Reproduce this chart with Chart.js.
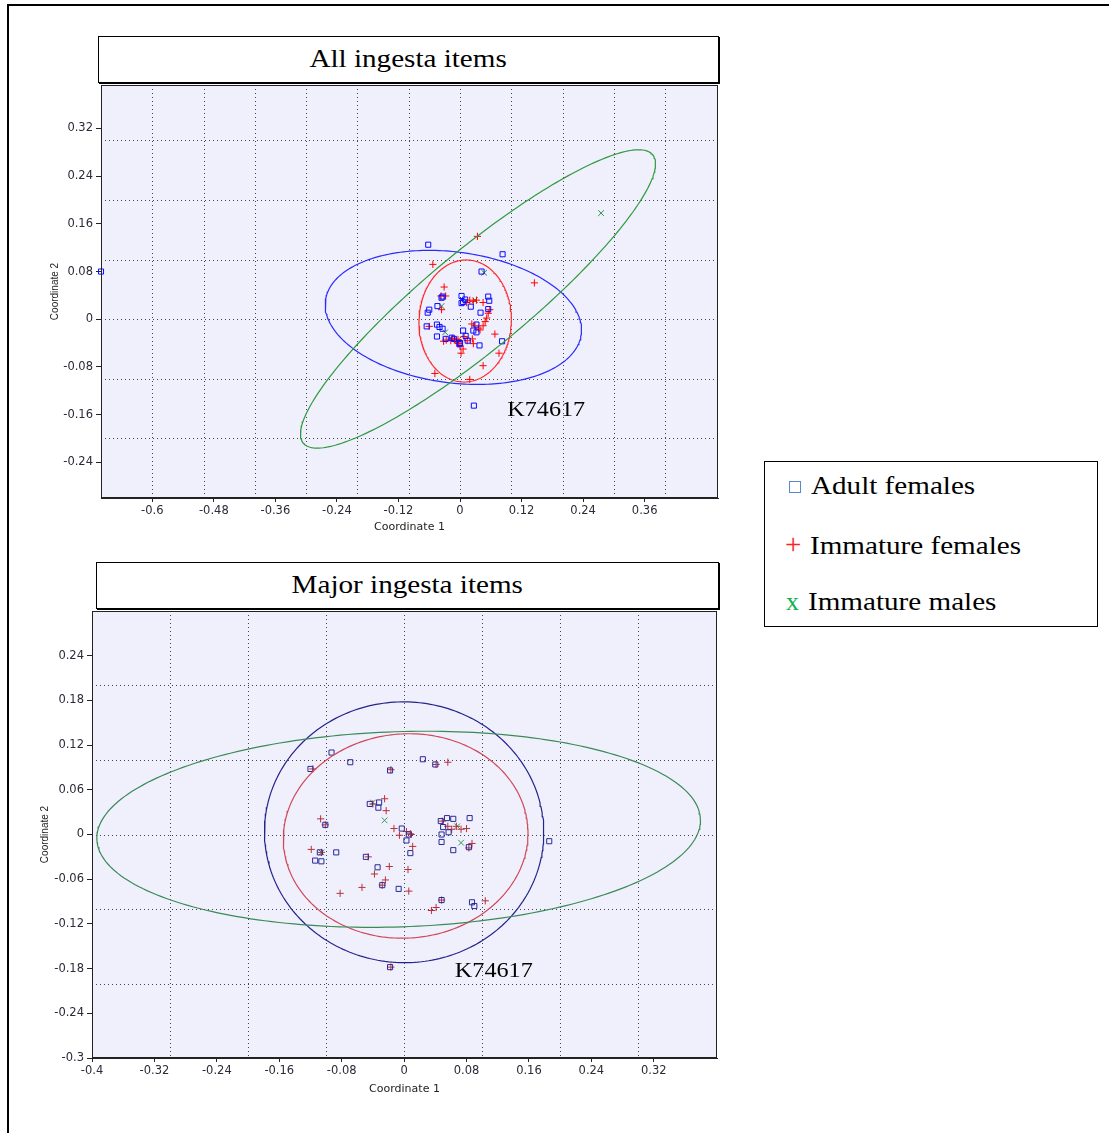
<!DOCTYPE html>
<html>
<head>
<meta charset="utf-8">
<script src="https://cdn.jsdelivr.net/npm/chart.js@4.4.0/dist/chart.umd.min.js"></script>
<style>
body { margin: 0; background: #fff; width: 1109px; height: 1133px; overflow: hidden; position: relative; font-family: "Liberation Serif", "Times New Roman", serif; }
.frame { position: absolute; left: 7px; top: 4px; width: 1200px; height: 1200px; border-top: 2px solid #000; border-left: 2px solid #000; }
.title { position: absolute; border: 1.5px solid #000; box-shadow: 1px 1px 0 #000; background: #fff; text-align: center; font-size: 26px; box-sizing: border-box; color: #000; }
.title span, .item span.t { display: inline-block; transform: scaleX(1.12); transform-origin: center; }
.legend { position: absolute; left: 764px; top: 461px; width: 334px; height: 166px; border: 1.5px solid #000; box-sizing: border-box; background: #fff; }
.item { position: absolute; font-size: 26px; line-height: 30px; white-space: nowrap; color: #000; }
.item span.t { transform-origin: left center; }
.sq { display: inline-block; width: 12px; height: 12px; border: 1px solid #5a88d0; box-sizing: border-box; margin-right: 10px; vertical-align: 1px; }
canvas { position: absolute; }
</style>
</head>
<body>
<div class="frame"></div>
<div class="title" style="left:98px;top:36px;width:621px;height:47px;line-height:44px;"><span>All ingesta items</span></div>
<div class="title" style="left:96px;top:562px;width:623px;height:47px;line-height:44px;"><span>Major ingesta items</span></div>
<canvas id="topChart" width="740" height="460" style="left:0;top:80px;width:740px;height:460px;"></canvas>
<canvas id="botChart" width="740" height="502" style="left:0;top:606px;width:740px;height:502px;"></canvas>
<div class="legend">
  <div class="item" style="left:24px;top:9px;"><span class="sq"></span><span class="t">Adult females</span></div>
  <div class="item" style="left:20px;top:67px;"><span style="color:#ff2020;margin-right:9px;font-size:29px;">+</span><span class="t">Immature females</span></div>
  <div class="item" style="left:21px;top:125px;"><span style="color:#10b050;margin-right:9px;">x</span><span class="t">Immature males</span></div>
</div>
<script>
// axis ticks and dotted grid positions
const topXTicks = [-0.6, -0.48, -0.36, -0.24, -0.12, 0, 0.12, 0.24, 0.36];
const topYTicks = [-0.24, -0.16, -0.08, 0, 0.08, 0.16, 0.24, 0.32];
const topGridX = [-0.6, -0.5, -0.4, -0.3, -0.2, -0.1, 0, 0.1, 0.2, 0.3, 0.4];
const topGridY = [-0.2, -0.1, 0, 0.1, 0.2, 0.3];
const botXTicks = [-0.4, -0.32, -0.24, -0.16, -0.08, 0, 0.08, 0.16, 0.24, 0.32];
const botYTicks = [-0.3, -0.24, -0.18, -0.12, -0.06, 0, 0.06, 0.12, 0.18, 0.24];
const botGridX = [-0.3, -0.2, -0.1, 0, 0.1, 0.2, 0.3];
const botGridY = [-0.2, -0.1, 0, 0.1, 0.2];

// All ingesta items
const topAdultX = [-0.70, -0.062, 0.083, 0.042, 0.003, -0.034, -0.036, 0.055, 0.057, 0.006, 0.003, 0.021, -0.044, -0.060, -0.063, 0.040, 0.055, -0.065, -0.045, -0.040, -0.034, 0.006, 0.026, 0.032, 0.032, -0.045, -0.028, -0.016, -0.012, -0.001, 0.011, 0.038, 0.082, 0.027, 0.010, 0.000, 0.015];
const topAdultY = [0.080, 0.125, 0.109, 0.080, 0.039, 0.038, 0.036, 0.038, 0.031, 0.029, 0.027, 0.021, 0.022, 0.016, 0.011, 0.011, 0.017, -0.012, -0.009, -0.013, -0.016, -0.019, -0.019, -0.009, -0.022, -0.029, -0.033, -0.031, -0.033, -0.042, -0.028, -0.044, -0.037, -0.145, 0.033, -0.040, -0.036];
const topImmFX = [0.034, -0.053, 0.145, -0.031, -0.037, -0.028, 0.019, 0.026, 0.032, 0.045, 0.013, -0.036, 0.058, 0.055, 0.052, 0.049, 0.045, 0.023, 0.029, 0.036, 0.039, -0.060, 0.068, -0.027, -0.032, -0.010, -0.006, -0.003, 0.008, 0.024, 0.006, 0.002, 0.026, 0.076, 0.045, -0.049, 0.019, 0.014, -0.018, -0.015, -0.004, 0.000];
const topImmFY = [0.139, 0.092, 0.061, 0.054, 0.039, 0.039, 0.032, 0.030, 0.032, 0.028, 0.028, 0.016, 0.016, 0.010, 0.002, -0.004, -0.011, -0.008, -0.011, -0.015, -0.018, -0.012, -0.025, -0.035, -0.037, -0.035, -0.038, -0.041, -0.029, -0.033, -0.050, -0.057, -0.041, -0.057, -0.078, -0.091, -0.101, -0.036, -0.036, -0.032, -0.034, -0.045];
const topImmMX = [0.275, 0.047, -0.036, -0.029, 0.029, -0.006];
const topImmMY = [0.178, 0.078, 0.022, -0.022, 0.032, -0.036];
// ellipse: centre x, centre y, semi-axis a, semi-axis b, angle (deg)
const topEllAdult = [-0.013, 0.003, 0.251, 0.110, -6];
const topEllImmF = [0.010, -0.003, 0.1025, 0.090, 85];
const topEllImmM = [0.035, 0.034, 0.418, 0.088, 35];

// Major ingesta items
const botAdultX = [-0.093, -0.069, 0.024, 0.040, -0.120, -0.018, -0.044, -0.032, -0.033, -0.101, 0.047, 0.055, 0.063, 0.084, 0.050, 0.057, 0.048, 0.048, 0.063, 0.083, -0.003, 0.003, 0.008, 0.006, -0.108, -0.087, -0.114, -0.106, -0.049, -0.034, -0.028, -0.007, 0.048, 0.087, 0.090, -0.018, 0.186];
const botAdultY = [0.110, 0.097, 0.101, 0.094, 0.088, 0.086, 0.041, 0.043, 0.036, 0.013, 0.018, 0.022, 0.021, 0.022, 0.010, 0.003, 0.000, -0.010, -0.021, -0.017, 0.008, -0.008, -0.025, 0.000, -0.024, -0.024, -0.035, -0.036, -0.030, -0.044, -0.068, -0.073, -0.088, -0.091, -0.096, -0.178, -0.009];
const botImmFX = [0.056, -0.117, 0.041, -0.017, -0.025, -0.040, -0.023, -0.107, -0.101, -0.013, -0.006, 0.003, 0.009, 0.011, 0.049, 0.056, 0.061, 0.067, 0.073, 0.080, 0.087, -0.119, -0.106, -0.046, -0.019, 0.005, -0.038, -0.024, -0.054, -0.082, -0.028, 0.006, 0.048, 0.035, 0.041, 0.104, -0.017, 0.083, 0.008];
const botImmFY = [0.097, 0.088, 0.094, 0.087, 0.048, 0.041, 0.032, 0.021, 0.013, 0.008, -0.001, 0.004, 0.000, -0.016, 0.018, 0.011, 0.007, 0.011, 0.007, 0.008, -0.012, -0.020, -0.024, -0.030, -0.043, -0.047, -0.053, -0.061, -0.071, -0.079, -0.068, -0.076, -0.088, -0.102, -0.098, -0.089, -0.178, -0.018, 0.001];
const botImmMX = [-0.025, 0.068, 0.073, -0.106, -0.040];
const botImmMY = [0.019, 0.011, -0.011, -0.024, 0.043];
const botEllAdult = [0.000, 0.003, 0.179, 0.175, -5];
const botEllImmF = [0.002, -0.002, 0.157, 0.137, 6];
const botEllImmM = [-0.007, 0.007, 0.387, 0.131, 2];

function zip(xs, ys) {
    return xs.map((x, i) => ({ x: x, y: ys[i] }))
}

function ellipse(e) {
    const [cx, cy, a, b, deg] = e
    const th = deg * Math.PI / 180
    const pts = []
    for (let i = 0; i <= 240; i++) {
        const t = 2 * Math.PI * i / 240
        pts.push({
            x: cx + a * Math.cos(t) * Math.cos(th) - b * Math.sin(t) * Math.sin(th),
            y: cy + a * Math.cos(t) * Math.sin(th) + b * Math.sin(t) * Math.cos(th)
        })
    }
    return pts
}

const plotDecor = {
    id: 'plotDecor',
    beforeDatasetsDraw(chart, args, opts) {
        const { ctx, chartArea: a, scales } = chart
        ctx.save()
        ctx.fillStyle = 'rgb(240,240,252)'
        ctx.fillRect(a.left, a.top, a.right - a.left, a.bottom - a.top)
        ctx.strokeStyle = '#444'
        ctx.lineWidth = 1
        ctx.setLineDash([1, 3])
        opts.gx.forEach(v => {
            const px = Math.round(scales.x.getPixelForValue(v)) + 0.5
            ctx.beginPath(); ctx.moveTo(px, a.top); ctx.lineTo(px, a.bottom); ctx.stroke()
        })
        opts.gy.forEach(v => {
            const py = Math.round(scales.y.getPixelForValue(v)) + 0.5
            ctx.beginPath(); ctx.moveTo(a.left, py); ctx.lineTo(a.right, py); ctx.stroke()
        })
        ctx.restore()
    },
    afterDatasetsDraw(chart, args, opts) {
        const { ctx, chartArea: a, scales } = chart
        ctx.save()
        ctx.strokeStyle = '#222'
        ctx.lineWidth = 1
        ctx.strokeRect(a.left + 0.5, a.top + 0.5, a.right - a.left - 1, a.bottom - a.top - 1)
        ctx.fillStyle = '#000'
        ctx.font = '22px "Liberation Serif", serif'
        ctx.textBaseline = 'middle'
        ctx.textAlign = 'left'
        ctx.translate(scales.x.getPixelForValue(opts.note[0]), scales.y.getPixelForValue(opts.note[1]))
        ctx.scale(1.1, 1)
        ctx.fillText(opts.note[2], 0, 0)
        ctx.restore()
    }
}

function axis(ticks, min, max, title, isX, size, pad) {
    return {
        type: 'linear',
        min: min,
        max: max,
        afterBuildTicks: s => { s.ticks = ticks.map(v => ({ value: v })) },
        afterFit: s => {
            if (isX) { s.height = size; s.paddingLeft = 0; s.paddingRight = 0 }
            else { s.width = size; s.paddingTop = 0; s.paddingBottom = 0 }
        },
        ticks: {
            autoSkip: false,
            maxRotation: 0,
            padding: isX ? 2 : 3,
            color: '#2a2a38',
            font: { family: '"DejaVu Sans", sans-serif', size: 11.5 },
            callback: v => String(Math.round(v * 100) / 100)
        },
        grid: { drawOnChartArea: false, tickLength: isX ? 4 : 5, color: '#222' },
        border: { color: '#222' },
        title: {
            display: true,
            text: title,
            color: '#222',
            font: isX ? { family: '"DejaVu Sans", sans-serif', size: 11 } : { family: '"Liberation Sans", Arial, sans-serif', size: 10 },
            padding: isX ? { top: 0, bottom: pad } : { top: pad, bottom: 0 }
        }
    }
}

function pts(data, style, color, r) {
    return { data: data, pointStyle: style, pointRadius: r, borderColor: color, backgroundColor: 'rgba(0,0,0,0)', pointBorderWidth: 1, showLine: false, clip: false }
}

function ring(e, color) {
    return { data: ellipse(e), showLine: true, pointRadius: 0, borderColor: color, borderWidth: 1.2, fill: false, clip: false }
}

new Chart(document.querySelector('#topChart'), {
    type: 'scatter',
    data: {
        datasets: [
            ring(topEllImmM, '#2f9a3f'),
            ring(topEllAdult, '#2a2aff'),
            ring(topEllImmF, '#ff2a2a'),
            pts(zip(topAdultX, topAdultY), 'rect', '#0a0aff', 3.6),
            pts(zip(topImmFX, topImmFY), 'cross', '#ff0000', 3.6),
            pts(zip(topImmMX, topImmMY), 'crossRot', '#2e8b3e', 4)
        ]
    },
    options: {
        responsive: false,
        animation: false,
        events: [],
        layout: { padding: { left: 46, right: 22, top: 3, bottom: 0 } },
        scales: {
            x: axis(topXTicks, -0.7, 0.503, 'Coordinate 1', true, 42, 6),
            y: axis(topYTicks, -0.3, 0.393, 'Coordinate 2', false, 55, 3)
        },
        plugins: {
            legend: { display: false },
            tooltip: { enabled: false },
            plotDecor: { gx: topGridX, gy: topGridY, note: [0.092, -0.153, 'K74617'] }
        }
    },
    plugins: [plotDecor]
})

new Chart(document.querySelector('#botChart'), {
    type: 'scatter',
    data: {
        datasets: [
            ring(botEllImmM, '#3a8a58'),
            ring(botEllAdult, '#24248c'),
            ring(botEllImmF, '#d04858'),
            pts(zip(botAdultX, botAdultY), 'rect', '#2a2a96', 3.6),
            pts(zip(botImmFX, botImmFY), 'cross', '#b8303c', 3.6),
            pts(zip(botImmMX, botImmMY), 'crossRot', '#3a9a5a', 4)
        ]
    },
    options: {
        responsive: false,
        animation: false,
        events: [],
        layout: { padding: { left: 36, right: 23, top: 4, bottom: 0 } },
        scales: {
            x: axis(botXTicks, -0.4, 0.401, 'Coordinate 1', true, 50, 12),
            y: axis(botYTicks, -0.3, 0.3, 'Coordinate 2', false, 56, 3)
        },
        plugins: {
            legend: { display: false },
            tooltip: { enabled: false },
            plotDecor: { gx: botGridX, gy: botGridY, note: [0.065, -0.184, 'K74617'] }
        }
    },
    plugins: [plotDecor]
})
</script>
</body>
</html>
